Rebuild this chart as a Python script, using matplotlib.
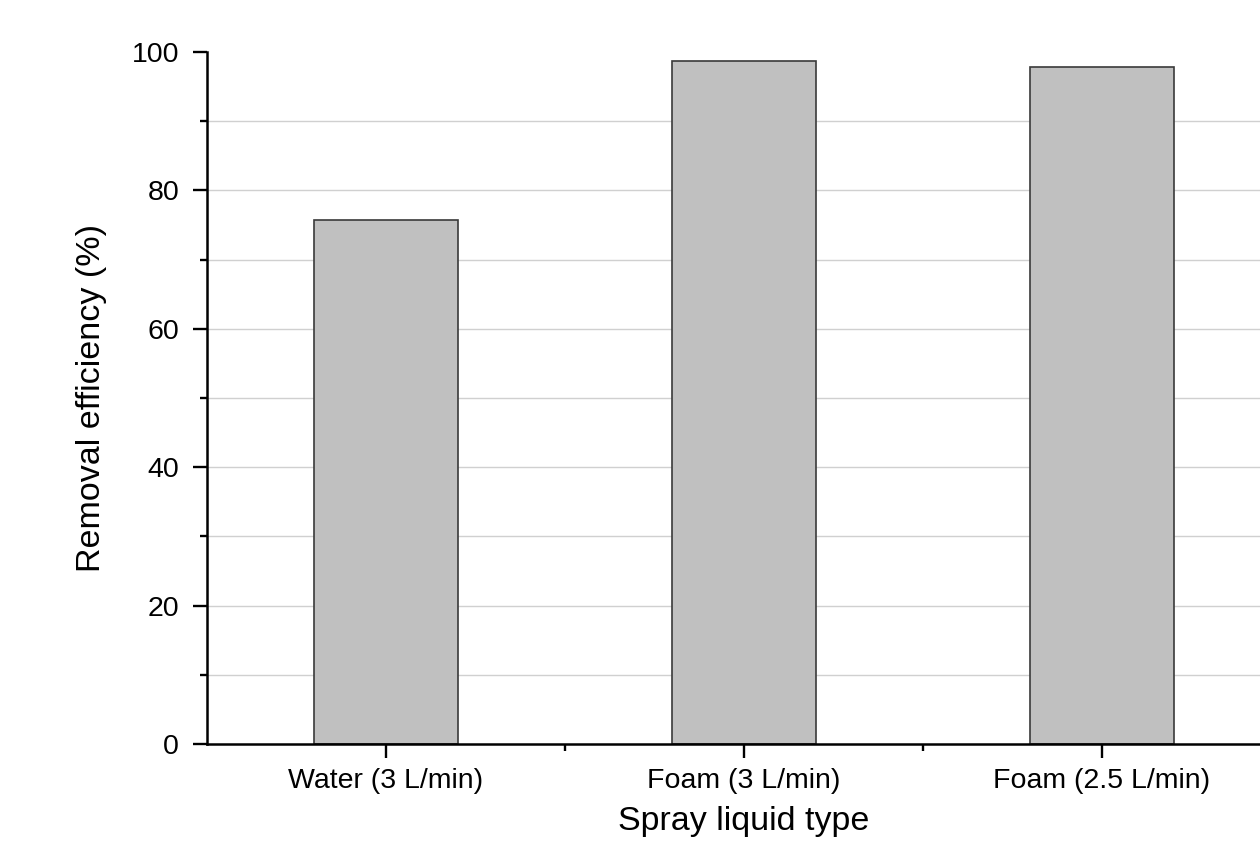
import numpy as np
from matplotlib import pyplot as plt
from matplotlib.ticker import MultipleLocator, FixedLocator

categories = ['Water (3 L/min)', 'Foam (3 L/min)', 'Foam (2.5 L/min)']
efficiency = [75.7, 98.7, 97.9]

plt.rcParams['font.family'] = ['Liberation Sans', 'DejaVu Sans']

fig = plt.figure(figsize=(12.6, 8.44), dpi=100)
# right edge runs past the figure, the reference is cropped there
ax = fig.add_axes([207/1260, 100/844, (1281-207)/1260, (744-52)/844])

x = np.arange(len(categories))
ax.bar(x, efficiency, width=0.4, color='#c0c0c0', edgecolor='#3a3a3a', linewidth=1.2, zorder=3)

ax.set_xlim(-0.5, len(categories) - 0.5)
ax.set_ylim(0, 100)

# light horizontal grid between 0 and 100
ax.hlines(np.arange(10, 100, 10), -0.5, len(categories) - 0.5, color='#d0d0d0', linewidth=1.0, zorder=1)

ax.set_xticks(x)
ax.set_xticklabels(categories)
ax.xaxis.set_minor_locator(FixedLocator(x[1:] - 0.5))
ax.yaxis.set_major_locator(MultipleLocator(20))
ax.yaxis.set_minor_locator(MultipleLocator(10))

ax.tick_params(which='major', direction='out', length=10, width=1.7, labelsize=20.5, pad=7)
ax.tick_params(which='minor', direction='out', length=5, width=1.7)
ax.tick_params(axis='y', which='major', pad=10)

for side in ['top', 'right']:
    ax.spines[side].set_visible(False)
for side in ['left', 'bottom']:
    ax.spines[side].set_linewidth(1.8)
    ax.spines[side].set_zorder(4)

ax.set_ylabel('Removal efficiency (%)', fontsize=24.5, labelpad=18)
ax.set_xlabel('Spray liquid type', fontsize=24.5, labelpad=9)

fig.savefig('out.png', dpi=100)
